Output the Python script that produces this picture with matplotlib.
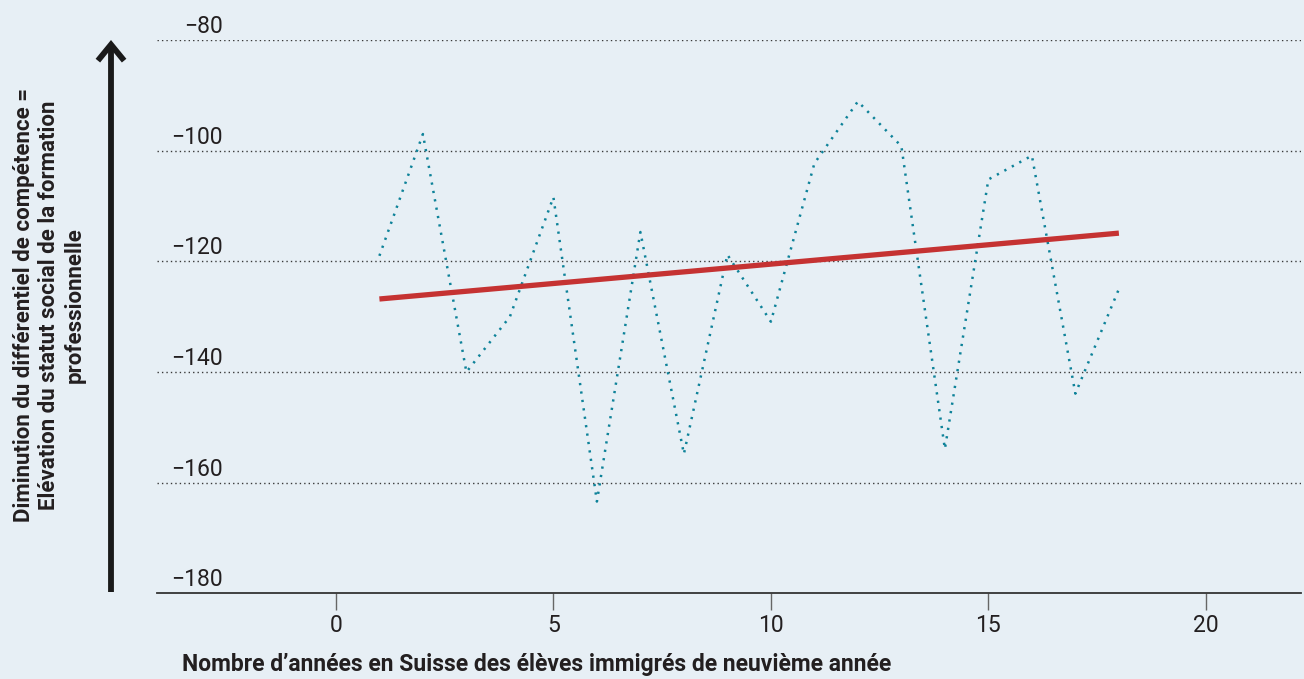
import matplotlib
matplotlib.use("Agg")
import matplotlib.pyplot as plt
from matplotlib.transforms import ScaledTranslation
import numpy as np

# ---- data ----
years = [1, 2, 3, 4, 5, 6, 7, 8, 9, 10, 11, 12, 13, 14, 15, 16, 17, 18]
values = [-119.0, -97.0, -140.0, -130.0, -108.4, -163.4, -114.7, -154.8, -118.8,
          -130.9, -102.3, -91.1, -99.2, -153.9, -105.2, -100.9, -143.9, -125.0]
trend_x = [1, 18]
trend_y = [-126.8, -114.9]
y_ticks = [-180, -160, -140, -120, -100, -80]
x_ticks = [0, 5, 10, 15, 20]
xlabel = "Nombre d’années en Suisse des élèves immigrés de neuvième année"
ylabel = ("Diminution du différentiel de compétence =\n"
          "Elévation du statut social de la formation\n"
          "professionnelle")

BG = "#e7eff5"
TEXT = "#231f20"
TEAL = "#0e8299"
RED = "#c53232"

plt.rcParams['font.family'] = ['Roboto', 'DejaVu Sans']

W, H = 1304, 679
fig = plt.figure(figsize=(W / 100, H / 100), dpi=100, facecolor=BG)
left, right, bottom_px, top_px = 156.7, 1300.7, 593.4, 40.0
ax = fig.add_axes([left / W, (H - bottom_px) / H, (right - left) / W, (bottom_px - top_px) / H])
ax.set_facecolor(BG)

ax.set_xlim(-4.12, 22.18)
ax.set_ylim(-180, -80)

# grid lines (dotted) for all but the bottom
for yv in y_ticks[1:]:
    ax.axhline(yv, color="#3a3a3a", lw=1.0, linestyle=(0, (1, 2.2)), zorder=1)

ax.plot(years, values, color=TEAL, lw=1.8, linestyle=(0, (0.9, 2.5)), zorder=3, clip_on=False)
ax.plot(trend_x, trend_y, color=RED, lw=3.8, solid_capstyle='butt', zorder=4)

for s in ['top', 'right', 'left']:
    ax.spines[s].set_visible(False)
ax.spines['bottom'].set_color("#333333")
ax.spines['bottom'].set_linewidth(1.3)

ax.set_xticks(x_ticks)
ax.set_xticklabels([str(v) for v in x_ticks])
ax.tick_params(axis='x', length=12.5, width=1.0, color="#666666", pad=2,
               labelsize=16.5, labelcolor=TEXT)

ax.set_yticks(y_ticks)
ax.set_yticklabels([str(v).replace('-', '\u2212') for v in y_ticks])
ax.tick_params(axis='y', length=0, pad=-47.5, labelsize=16.5, labelcolor=TEXT)
off = ScaledTranslation(0, 7 / 100, fig.dpi_scale_trans)
for lab in ax.get_yticklabels():
    lab.set_verticalalignment('baseline')
    lab.set_horizontalalignment('right')
    lab.set_transform(lab.get_transform() + off)

# x label, left-aligned
fig.text(182 / W, (H - 664) / H, xlabel, ha='left', va='center',
         fontsize=16.5, fontweight='bold', color=TEXT)

# y label (three centred lines, rotated)
fig.text(49 / W, (H - 305) / H, ylabel, rotation=90, ha='center', va='center',
         multialignment='center', fontsize=16, fontweight='bold', color=TEXT,
         linespacing=1.2)

# vertical arrow
fig.add_artist(matplotlib.patches.FancyArrowPatch(
    (111 / W, (H - 592) / H), (111 / W, (H - 40) / H),
    transform=fig.transFigure, arrowstyle='->,head_length=0.55,head_width=0.45',
    mutation_scale=21, lw=4.2, color="#1a1a1a", shrinkA=0, shrinkB=0,
    capstyle='butt', joinstyle='miter'))

fig.savefig("out.png", dpi=100, facecolor=BG)
